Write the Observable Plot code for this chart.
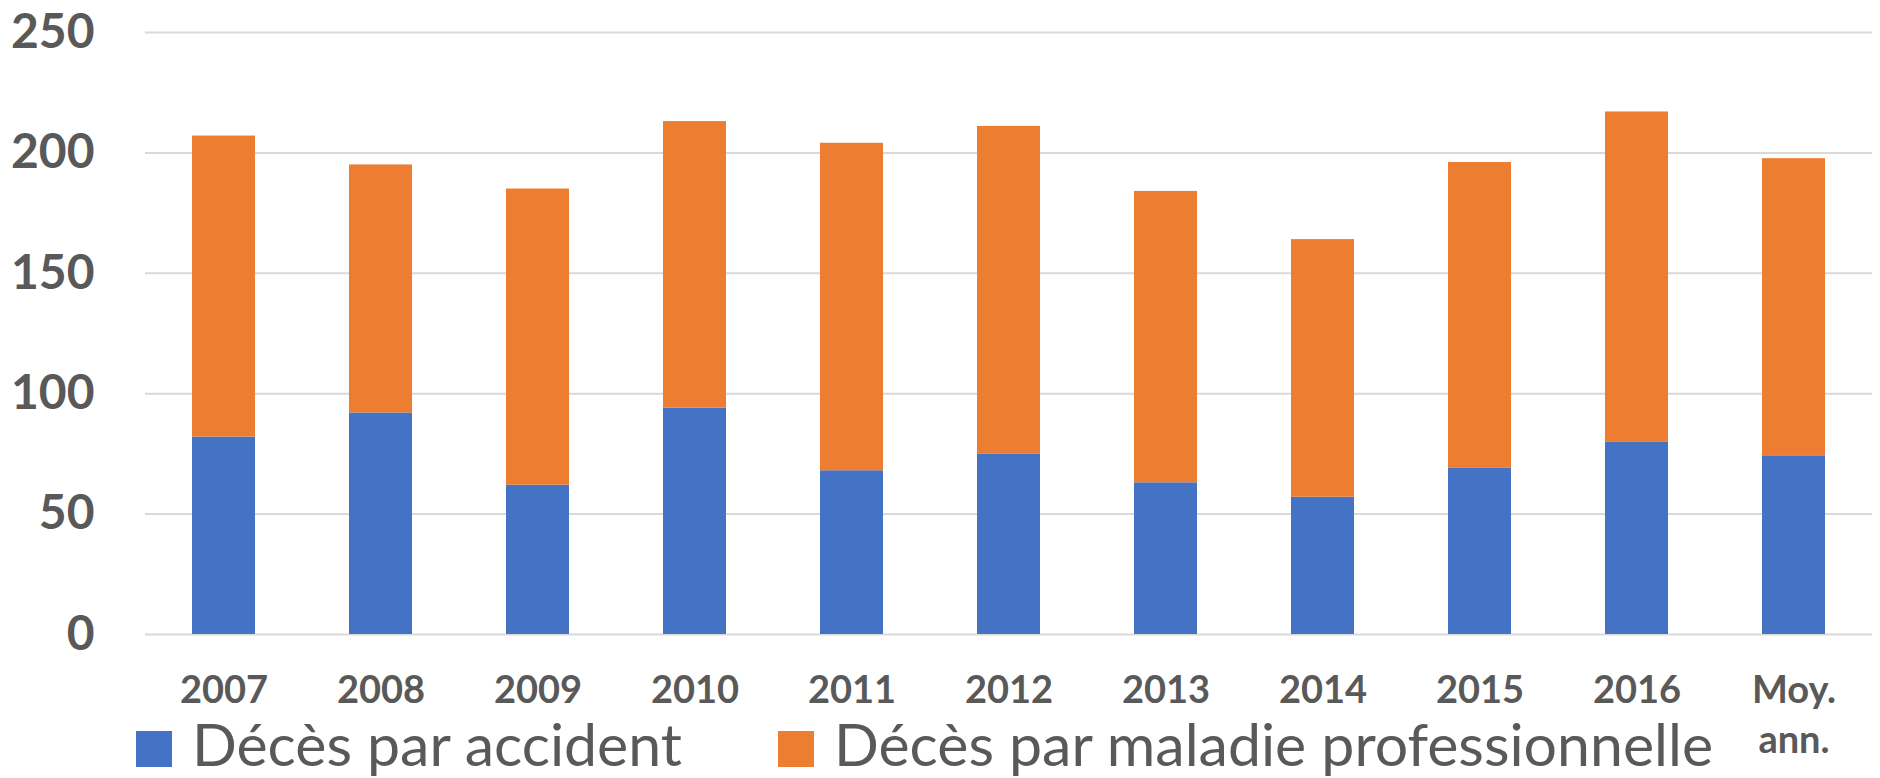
<!DOCTYPE html>
<html><head><meta charset="utf-8">
<script src="https://cdn.jsdelivr.net/npm/d3@7"></script>
<script src="https://cdn.jsdelivr.net/npm/@observablehq/plot@0.6"></script>
<style>
body{margin:0;background:#fff;}
#wrap{position:relative;width:1880px;height:778px;overflow:hidden;background:#fff;}
.leg{position:absolute;font-family:Lato,sans-serif;font-size:59px;line-height:50px;color:#595959;white-space:nowrap;}
.sw{position:absolute;width:36px;height:36px;}
</style></head><body><div id="wrap"></div>
<script>
const categories = ["2007","2008","2009","2010","2011","2012","2013","2014","2015","2016","Moy.\nann."];
const accidents = [82,92,62,94,68,75,63,57,69,80,74.2];
const maladies = [125,103,123,119,136,136,121,107,127,137,123.4];
const seriesNames = ["Décès par accident","Décès par maladie professionnelle"];
const seriesColors = ["#4472C4","#ED7D31"];
const yTicks = [0,50,100,150,200,250];

const data = categories.flatMap((c,i)=>[
  {cat:c, series:seriesNames[0], value:accidents[i]},
  {cat:c, series:seriesNames[1], value:maladies[i]}
]);

const chart = Plot.plot({
  width:1880, height:778, marginTop:32, marginBottom:144, marginLeft:145, marginRight:8,
  style:{fontFamily:"Lato, sans-serif", color:"#595959", background:"white"},
  x:{domain:categories, paddingInner:0.6, paddingOuter:0.3, label:null},
  y:{domain:[0,250], label:null},
  color:{domain:seriesNames, range:seriesColors},
  marks:[
    Plot.gridY(yTicks,{stroke:"#d9d9d9", strokeOpacity:1, strokeWidth:2}),
    Plot.barY(data,{x:"cat", y:"value", fill:"series", order:seriesNames}),
    Plot.axisY(yTicks,{tickSize:0, tickPadding:51, fontSize:48, fontWeight:"bold", fill:"#595959", label:null}),
    Plot.axisX({tickSize:0, tickPadding:33, fontSize:38, fontWeight:"bold", fill:"#595959", lineHeight:1.32, label:null})
  ]
});
const wrap = document.getElementById("wrap");
wrap.appendChild(chart);

const legX = [136, 778];
seriesNames.forEach((name,i)=>{
  const sw = document.createElement("div");
  sw.className = "sw";
  sw.style.left = legX[i] + "px";
  sw.style.top = "731px";
  sw.style.background = seriesColors[i];
  wrap.appendChild(sw);
  const t = document.createElement("div");
  t.className = "leg";
  t.style.left = (legX[i] + 56) + "px";
  t.style.top = "719px";
  t.textContent = name;
  wrap.appendChild(t);
});
</script></body></html>
